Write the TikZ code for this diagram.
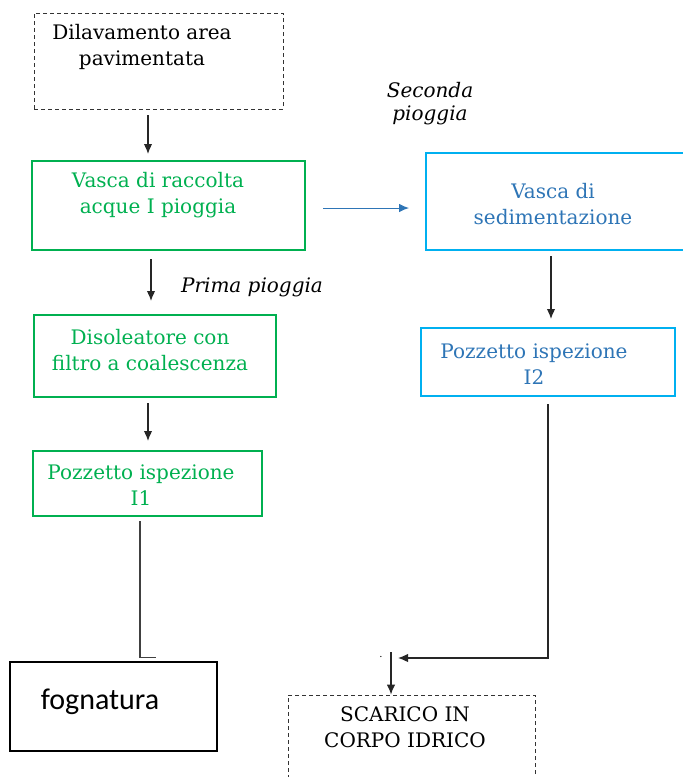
\documentclass[tikz,border=0pt]{standalone}
\usepackage{fontspec}
\setmainfont{DejaVu Serif}
\newfontfamily\calib{Carlito}
\usetikzlibrary{arrows.meta,calc}
\definecolor{grn}{RGB}{0,176,80}
\definecolor{bbord}{RGB}{0,176,240}
\definecolor{btext}{RGB}{46,117,182}
\begin{document}
\begin{tikzpicture}[x=1pt,y=-1pt,
  box/.style={draw, rectangle, inner sep=0pt},
  gbox/.style={box, draw=grn, line width=2pt},
  bbox/.style={box, draw=bbord, line width=2pt},
  dbox/.style={box, draw=black!80, dash pattern=on 4pt off 3pt, line width=0.9pt},
  kbox/.style={box, draw=black, line width=1.3pt},
  txt/.style={align=center, font=\fontsize{20}{26}\selectfont, inner sep=0pt},
  lbl/.style={align=center, font=\fontsize{20}{23}\selectfont\itshape, inner sep=0pt},
  arr/.style={draw=black!85, line width=1.2pt, -{Latex[length=10pt,width=8.5pt]}},
  wire/.style={draw=black!75, line width=1.2pt},
]
\useasboundingbox (0,0) rectangle (683,777);
\clip (0,0) rectangle (683,777);

% boxes
\node[dbox, minimum width=249pt, minimum height=96pt] (dil) at (158.5,61) {};
\node[gbox, minimum width=273pt, minimum height=89pt] (vasca1) at (168.5,205.5) {};
\node[bbox, minimum width=274pt, minimum height=97pt] (sed) at (563,201.5) {};
\node[gbox, minimum width=242pt, minimum height=82pt] (diso) at (155,356) {};
\node[gbox, minimum width=229pt, minimum height=65pt] (ione) at (147.5,483.5) {};
\node[bbox, minimum width=254pt, minimum height=68pt] (itwo) at (548,362) {};
\node[kbox, minimum width=207pt, minimum height=89pt] (fogn) at (113.5,706.5) {};
\node[dbox, minimum width=247pt, minimum height=105pt] (scar) at (411.5,747.5) {};

% texts
\node[txt] (tdil) at (142,47) {Dilavamento area\\pavimentata};
\node[txt, text=grn] (tvas) at (158,195) {Vasca di raccolta\\acque I pioggia};
\node[txt, text=btext] (tsed) at (553,204.5) {Vasca di\\sedimentazione};
\node[txt, text=grn] (tdiso) at (150,350.5) {Disoleatore con\\filtro a coalescenza};
\node[txt, text=grn] (tione) at (141,485) {Pozzetto ispezione\\I1};
\node[txt, text=btext] (titwo) at (534,364.5) {Pozzetto ispezione\\I2};
\node[inner sep=0pt, font=\calib\fontsize{30}{32}\selectfont] (tfogn) at (100,702) {fognatura};
\node[txt] (tscar) at (405,727.5) {SCARICO IN\\CORPO IDRICO};
\node[lbl] (lsec) at (430,103.5) {Seconda\\pioggia};
\node[lbl] (lprima) at (252,287) {Prima pioggia};
\node[inner sep=0pt, font=\fontsize{10}{10}\selectfont] (dot) at (381,657) {.};

% connectors
\coordinate (junction) at (391,658);
\draw[arr] ($(148,0 |- dil.south)+(0,6)$) -- ($(148,0 |- vasca1.north)+(0,-6)$);
\draw[arr, draw=btext, line width=1pt] ($(vasca1.east |- 0,208)+(17,0)$) -- ($(sed.west |- 0,208)+(-16,0)$);
\draw[arr] ($(151,0 |- vasca1.south)+(0,8)$) -- ($(151,0 |- diso.north)+(0,-13)$);
\draw[arr] ($(148,0 |- diso.south)+(0,5)$) -- ($(148,0 |- ione.north)+(0,-9)$);
\draw[arr] ($(551,0 |- sed.south)+(0,5)$) -- ($(551,0 |- itwo.north)+(0,-8)$);
\draw[wire] ($(140,0 |- ione.south)+(0,4)$) |- ($(156,0 |- fogn.north)+(0,-4)$);
\draw[arr] ($(548,0 |- itwo.south)+(0,7)$) |- ($(junction)+(7,0)$);
\draw[arr] ($(junction)+(0,-6)$) -- (junction |- scar.north);
\end{tikzpicture}
\end{document}
